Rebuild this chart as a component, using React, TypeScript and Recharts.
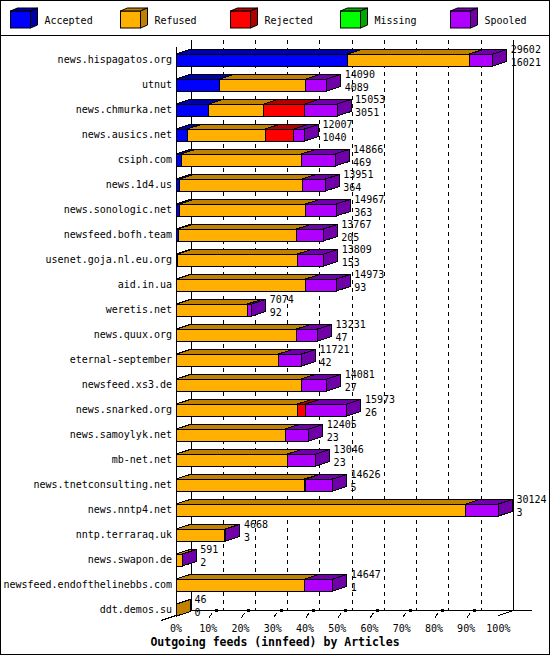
import { BarChart, Bar, XAxis, YAxis, CartesianGrid, Legend } from "recharts";

const W = 550;
const H = 655;
// depth of the 3d boxes and of the back wall
const DX = 14;
const DY = 4.5;
const GRID_DX = 15;

const HOSTS = [
  "news.hispagatos.org",
  "utnut",
  "news.chmurka.net",
  "news.ausics.net",
  "csiph.com",
  "news.1d4.us",
  "news.sonologic.net",
  "newsfeed.bofh.team",
  "usenet.goja.nl.eu.org",
  "aid.in.ua",
  "weretis.net",
  "news.quux.org",
  "eternal-september",
  "newsfeed.xs3.de",
  "news.snarked.org",
  "news.samoylyk.net",
  "mb-net.net",
  "news.tnetconsulting.net",
  "news.nntp4.net",
  "nntp.terraraq.uk",
  "news.swapon.de",
  "newsfeed.endofthelinebbs.com",
  "ddt.demos.su",
];

const OFFERED = [
  29602, 14090, 15053, 12007, 14866, 13951, 14967, 13767, 13809, 14973, 7074,
  13231, 11721, 14081, 15973, 12405, 13046, 14626, 30124, 4668, 591, 14647, 46,
];
const ACCEPTED = [
  16021, 4089, 3051, 1040, 469, 364, 363, 205, 153, 93, 92, 47, 42, 27, 26, 23,
  23, 5, 3, 3, 2, 1, 0,
];
const REFUSED = [
  11383, 8054, 5170, 7290, 11241, 11413, 11732, 11050, 11194, 12002, 6577,
  11208, 9528, 11658, 11321, 10167, 10387, 11995, 27062, 4544, 570, 12029, 46,
];
const REJECTED = [
  0, 0, 3820, 2680, 0, 0, 0, 0, 0, 0, 0, 0, 0, 0, 748, 0, 0, 95, 0, 0, 0, 0, 0,
];
const MISSING = [
  0, 0, 0, 0, 0, 0, 0, 0, 0, 0, 0, 0, 0, 0, 0, 0, 0, 0, 0, 0, 0, 0, 0,
];
const SPOOLED = [
  2198, 1947, 3012, 997, 3156, 2174, 2872, 2512, 2462, 2878, 405, 1976, 2151,
  2396, 3878, 2215, 2636, 2531, 3059, 121, 19, 2617, 0,
];

const PCT_TICKS = [0, 10, 20, 30, 40, 50, 60, 70, 80, 90, 100];

const SERIES = [
  { key: "acc", name: "Accepted", values: ACCEPTED, fill: "#0000ff", dark: "#0000a8" },
  { key: "ref", name: "Refused", values: REFUSED, fill: "#ffb000", dark: "#c08000" },
  { key: "rej", name: "Rejected", values: REJECTED, fill: "#ff0000", dark: "#b00000" },
  { key: "mis", name: "Missing", values: MISSING, fill: "#00ff00", dark: "#00a800" },
  { key: "spo", name: "Spooled", values: SPOOLED, fill: "#b000ff", dark: "#7000a8" },
];

const rows = HOSTS.map((host, i) => {
  const row: Record<string, any> = { host, offered: OFFERED[i], accepted: ACCEPTED[i] };
  SERIES.forEach((s) => (row[s.key] = s.values[i]));
  return row;
});

const MAX_OFFERED = Math.max(...OFFERED);
const X_TICKS = PCT_TICKS.map((p) => (p * MAX_OFFERED) / 100);

const FONT = {
  fontFamily: "'DejaVu Sans Mono', monospace",
  fontSize: 10,
  fill: "#000",
};

function barShape(si: number) {
  return (props: any) => {
    const { x, y, width, height, payload } = props;
    if (!(width > 0)) return <g />;
    const s = SERIES[si];
    const last = SERIES.slice(si + 1).every((t) => !payload[t.key]);
    const right = x + width;
    const cy = y + height / 2;
    return (
      <g>
        <rect x={x} y={y} width={width} height={height} fill={s.fill} stroke="#000" />
        <polygon
          points={`${x},${y} ${x + DX},${y - DY} ${right + DX},${y - DY} ${right},${y}`}
          fill={s.dark}
          stroke="#000"
        />
        {last && (
          <>
            <polygon
              points={`${right},${y} ${right + DX},${y - DY} ${right + DX},${y + height - DY} ${right},${y + height}`}
              fill={s.dark}
              stroke="#000"
            />
            <text x={right + 18} y={cy - 7} style={FONT}>
              {payload.offered}
            </text>
            <text x={right + 18} y={cy + 5.6} style={FONT}>
              {payload.accepted}
            </text>
          </>
        )}
      </g>
    );
  };
}

// back wall grid lines, plus the front axis and floor edges
function gridLine(props: any) {
  const { x1, y1, y2, index } = props;
  const bx = x1 + GRID_DX;
  const last = index === PCT_TICKS.length - 1;
  const edge = index === 0 || last;
  return (
    <g key={`grid-${index}`}>
      <line
        x1={bx}
        y1={y1}
        x2={bx}
        y2={y2}
        stroke="#000"
        strokeDasharray={edge ? undefined : "4 4"}
      />
      {index === 0 && (
        <>
          <line x1={x1} y1={y1 + 7} x2={x1} y2={y2 + 4.5} stroke="#000" />
          <line x1={x1 - GRID_DX} y1={y2 + 10} x2={bx} y2={y2} stroke="#000" />
        </>
      )}
      {last && (
        <>
          <line x1={x1} y1={y2 + 5} x2={bx} y2={y2} stroke="#000" />
          <line x1={bx} y1={y2} x2={bx + 19} y2={y2} stroke="#000" />
        </>
      )}
      {!edge && (
        <>
          <line x1={x1 + 1} y1={y2 + 7} x2={x1 + 4} y2={y2 + 2.5} stroke="#000" />
          <rect x={x1 + 7} y={y2 - 1.5} width={3} height={3} fill="#000" />
        </>
      )}
    </g>
  );
}

function renderLegend() {
  return (
    <svg width={W} height={36} style={{ display: "block" }}>
      {SERIES.map((s, i) => {
        const x0 = 10.5 + 110 * i;
        return (
          <g key={s.key}>
            <rect x={x0} y={11} width={20} height={17} fill={s.fill} stroke="#000" />
            <polygon
              points={`${x0},11 ${x0 + 7},8 ${x0 + 27},8 ${x0 + 20},11`}
              fill={s.dark}
              stroke="#000"
            />
            <polygon
              points={`${x0 + 20},11 ${x0 + 27},8 ${x0 + 27},25 ${x0 + 20},28`}
              fill={s.dark}
              stroke="#000"
            />
            <text x={x0 + 34} y={23.6} style={FONT}>
              {s.name}
            </text>
          </g>
        );
      })}
      <line x1={0} y1={35.5} x2={W} y2={35.5} stroke="#000" />
    </svg>
  );
}

function renderXTick(props: any) {
  const { x, y, payload } = props;
  const pct = Math.round((payload.value / MAX_OFFERED) * 100);
  return (
    <text x={x} y={y + 10} textAnchor="middle" style={FONT}>
      {pct}%
    </text>
  );
}

function renderYTick(props: any) {
  const { x, y, payload } = props;
  return (
    <text x={x} y={y + 3.6} textAnchor="end" style={FONT}>
      {payload.value}
    </text>
  );
}

function renderTitle(props: any) {
  const vb = props.viewBox || {};
  return (
    <text
      x={W / 2}
      y={(vb.y ?? 622) + 24}
      textAnchor="middle"
      style={{ ...FONT, fontSize: 11.5, fontWeight: "bold" }}
    >
      Outgoing feeds (innfeed) by Articles
    </text>
  );
}

export default function App() {
  return (
    <div style={{ position: "relative", width: W, height: H, background: "#fff" }}>
      <style>{"body{margin:0} .recharts-surface{shape-rendering:crispEdges}"}</style>
      <BarChart
        width={W}
        height={H}
        data={rows}
        layout="vertical"
        margin={{ top: 11, right: 51.6, bottom: 0, left: 0 }}
      >
        <Legend
          verticalAlign="top"
          align="left"
          content={renderLegend}
          wrapperStyle={{ top: 0, left: 0, width: W, height: 36 }}
        />
        <CartesianGrid horizontal={false} vertical={gridLine} y={40} height={570.5} />
        <XAxis
          type="number"
          domain={[0, MAX_OFFERED]}
          ticks={X_TICKS}
          interval={0}
          height={33}
          tickSize={0}
          tickMargin={0}
          tickLine={false}
          tick={renderXTick}
          axisLine={{ stroke: "#000", transform: `translate(${GRID_DX}, -11.5)` }}
          label={renderTitle}
        />
        <YAxis
          type="category"
          dataKey="host"
          width={176}
          tickSize={0}
          tickMargin={4}
          tickLine={false}
          axisLine={false}
          tick={renderYTick}
          interval={0}
        />
        {SERIES.map((s, i) => (
          <Bar
            key={s.key}
            dataKey={s.key}
            name={s.name}
            stackId="feed"
            fill={s.fill}
            barSize={12}
            shape={barShape(i)}
            isAnimationActive={false}
          />
        ))}
      </BarChart>
      <div
        style={{
          position: "absolute",
          inset: 0,
          border: "1px solid #000",
          boxSizing: "border-box",
          pointerEvents: "none",
        }}
      />
    </div>
  );
}
